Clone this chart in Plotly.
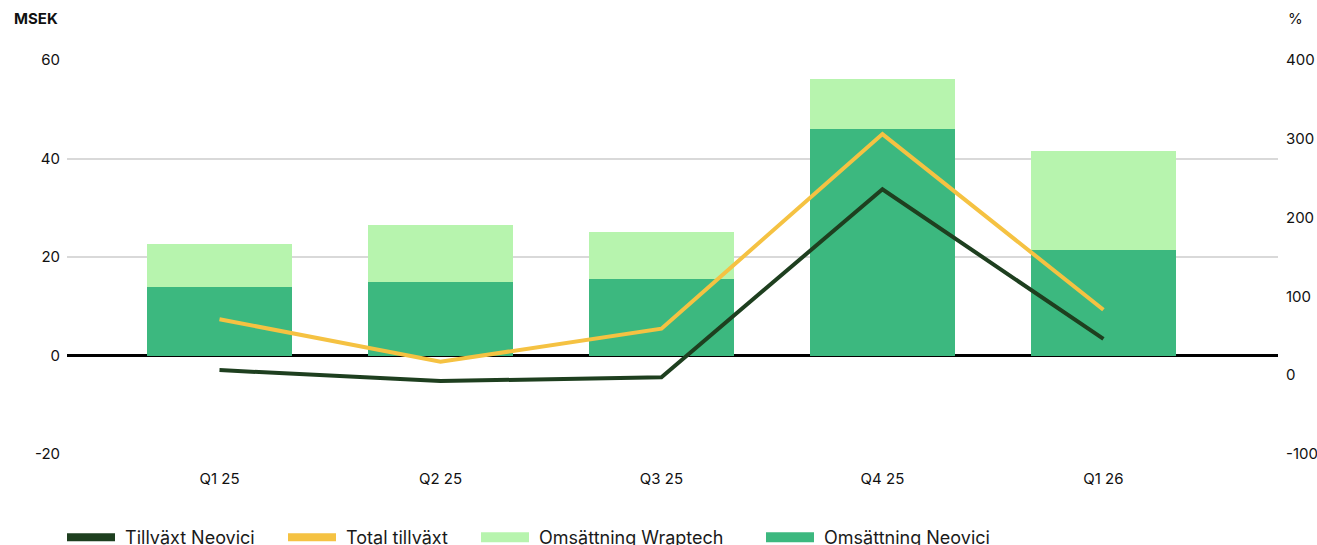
import plotly.graph_objects as go

quarters = ["Q1 25", "Q2 25", "Q3 25", "Q4 25", "Q1 26"]
oms_neovici = [14.0, 15.0, 15.6, 45.9, 21.5]
oms_wraptech = [8.7, 11.6, 9.4, 10.3, 20.1]
total_tillvaxt = [71, 17, 59, 306, 83]
tillvaxt_neovici = [6.5, -7.5, -2.5, 236, 46]
left_ticks = [-20, 0, 20, 40, 60]
left_tick_text = ["-20", "0", "20", "40", "60"]
right_ticks = [-100, 0, 100, 200, 300, 400]
right_tick_text = ["-100", "0", "100", "200", "300", "400"]

FONT = "Inter"
C_NEO = "#3cb87f"
C_WRAP = "#b7f4ae"
C_TOT = "#f5c242"
C_TNEO = "#1e3f1f"

fig = go.Figure()
fig.add_trace(go.Bar(x=quarters, y=oms_neovici, name="Omsättning Neovici",
                     marker=dict(color=C_NEO, line=dict(width=0)), width=0.656,
                     showlegend=False))
fig.add_trace(go.Bar(x=quarters, y=oms_wraptech, name="Omsättning Wraptech",
                     marker=dict(color=C_WRAP, line=dict(width=0)), width=0.656,
                     showlegend=False))
fig.add_trace(go.Scatter(x=quarters, y=total_tillvaxt, name="Total tillväxt", yaxis="y2",
                         mode="lines", line=dict(color=C_TOT, width=4), showlegend=False))
fig.add_trace(go.Scatter(x=quarters, y=tillvaxt_neovici, name="Tillväxt Neovici", yaxis="y2",
                         mode="lines", line=dict(color=C_TNEO, width=4), showlegend=False))

# legend entries (one legend per entry so each can be placed like the reference)
legend_entries = [
    ("Tillväxt Neovici", C_TNEO, 8, 62),
    ("Total tillväxt", C_TOT, 8, 283),
    ("Omsättning Wraptech", C_WRAP, 16, 476),
    ("Omsättning Neovici", C_NEO, 16, 761),
]
legend_layout = {}
for i, (name, color, lw, px) in enumerate(legend_entries):
    key = "legend" if i == 0 else f"legend{i + 1}"
    fig.add_trace(go.Scatter(x=[None], y=[None], mode="lines", name="\u00a0" + name,
                             line=dict(color=color, width=lw), legend=key,
                             showlegend=True, hoverinfo="skip"))
    legend_layout[key] = dict(orientation="h", x=(px - 67) / 1211, xanchor="left",
                              y=-0.165, yanchor="top",
                              font=dict(size=18, family=FONT, color="#1a1a1a"),
                              itemwidth=48, bgcolor="rgba(0,0,0,0)")

fig.update_layout(
    width=1317, height=545,
    barmode="stack",
    plot_bgcolor="white", paper_bgcolor="white",
    font=dict(family=FONT, size=15, color="#111111"),
    margin=dict(l=67, r=39, t=60, b=91, autoexpand=False),
    xaxis=dict(range=[-0.69, 4.79], showgrid=False, showline=False, ticks="",
               ticklabelstandoff=14, tickfont=dict(size=15)),
    yaxis=dict(range=[-20, 60], tickvals=left_ticks, ticktext=left_tick_text,
               showgrid=True, gridcolor="#d9d9d9",
               gridwidth=2, zeroline=True, zerolinecolor="#000000", zerolinewidth=3,
               showline=False, ticks="", ticklabelstandoff=6, tickfont=dict(size=15)),
    yaxis2=dict(range=[-100, 400], tickvals=right_ticks, ticktext=right_tick_text,
                overlaying="y", side="right",
                showgrid=False, zeroline=False, showline=False, ticks="",
                ticklabelstandoff=7, tickfont=dict(size=15)),
    showlegend=True,
    **legend_layout,
)
fig.add_annotation(text="<b>MSEK</b>", xref="paper", yref="paper",
                   x=(12 - 67) / 1211, y=(454 - 18) / 394, xanchor="left", yanchor="middle",
                   showarrow=False, font=dict(size=15, family=FONT, color="#111111"))
fig.add_annotation(text="%", xref="paper", yref="paper",
                   x=(1286 - 67) / 1211, y=(454 - 18) / 394, xanchor="left", yanchor="middle",
                   showarrow=False, font=dict(size=15, family=FONT, color="#111111"))

fig.write_html("out.html", config={"displayModeBar": False},
               post_script="document.body.style.margin='0';document.body.style.overflow='hidden';")
